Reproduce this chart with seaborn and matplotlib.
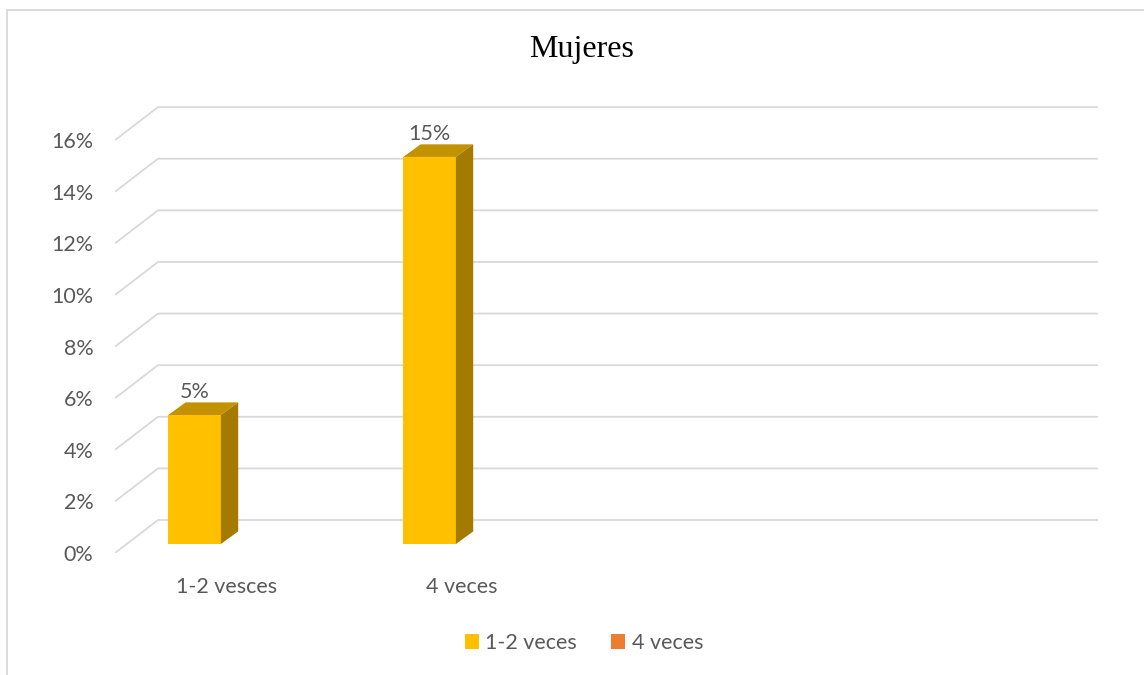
import pandas as pd
import matplotlib.pyplot as plt
import seaborn as sns
from matplotlib.patches import Polygon, Patch
from matplotlib.lines import Line2D

# chart data
categories = ["1-2 vesces", "4 veces"]
series = ["1-2 veces", "4 veces"]
values_1_2 = [5, 15]
values_4 = [0, 0]
y_ticks = [0, 2, 4, 6, 8, 10, 12, 14, 16]

colors = {"1-2 veces": "#FFC000", "4 veces": "#ED7D31"}
top_color = "#C29200"
side_color = "#A47B00"
grid_color = "#D9D9D9"
text_color = "#595959"

# fake 3d geometry (data units)
FRONT_DX, FRONT_DY = -0.05, -0.349
BACK_DX, BACK_DY = 0.133, 0.93
BAR_DX, BAR_DY = 0.0736, 0.488
X_LEFT, X_RIGHT = -0.5136, 3.669
Y_BOTTOM, Y_TOP = -0.349, 17.40

df = pd.DataFrame({
    "categoria": categories * 2,
    "serie": [series[0]] * 2 + [series[1]] * 2,
    "valor": values_1_2 + values_4,
})

sns.set_theme(style="white")
plt.rcParams["font.family"] = ["Lato", "DejaVu Sans"]

fig = plt.figure(figsize=(11.44, 6.75), dpi=100)
ax = fig.add_axes([115 / 1144, 1 - 553 / 675, 983 / 1144, (553 - 95) / 675])

sns.barplot(data=df, x="categoria", y="valor", hue="serie", order=categories,
            hue_order=series, palette=colors, width=0.70, gap=0.36, saturation=1,
            errorbar=None, legend=False, linewidth=0, ax=ax, zorder=3)

# top and side faces of each bar
for p in list(ax.patches):
    h = p.get_height()
    if h <= 0:
        continue
    x0 = p.get_x()
    x1 = x0 + p.get_width()
    ax.add_patch(Polygon([(x0, h), (x1, h), (x1 + BAR_DX, h + BAR_DY), (x0 + BAR_DX, h + BAR_DY)],
                         closed=True, facecolor=top_color, edgecolor="none", zorder=3))
    ax.add_patch(Polygon([(x1, 0), (x1, h), (x1 + BAR_DX, h + BAR_DY), (x1 + BAR_DX, BAR_DY)],
                         closed=True, facecolor=side_color, edgecolor="none", zorder=3))
    ax.annotate(f"{h:.0f}%", ((x0 + x1) / 2, h + BAR_DY), xytext=(0, 3),
                textcoords="offset points", ha="center", va="baseline",
                fontsize=15.5, color=text_color, zorder=4)

# gridlines: wall + side diagonal
bx = X_LEFT + (BACK_DX - FRONT_DX)
for v in y_ticks:
    ax.plot([X_LEFT, bx, X_RIGHT], [v + FRONT_DY, v + BACK_DY, v + BACK_DY],
            color=grid_color, lw=1.3, zorder=1, solid_capstyle="butt")

ax.set_xlim(X_LEFT, X_RIGHT)
ax.set_ylim(Y_BOTTOM, Y_TOP)
ax.set_yticks([v + FRONT_DY for v in y_ticks], [f"{v}%" for v in y_ticks])
ax.set_xticks([i + FRONT_DX + 0.012 for i in range(len(categories))], categories)
ax.tick_params(axis="y", length=0, pad=15.5, labelsize=15.5, labelcolor=text_color)
ax.tick_params(axis="x", length=0, pad=17, labelsize=15.5, labelcolor=text_color)
ax.set_xlabel("")
ax.set_ylabel("")
for s in ax.spines.values():
    s.set_visible(False)

fig.text(582 / 1144, 1 - 50 / 675, "Mujeres", ha="center", va="center",
         fontsize=23, family="Liberation Serif", color="black")

handles = [Patch(facecolor=colors[s], edgecolor="none", label=s) for s in series]
fig.legend(handles=handles, loc="center", bbox_to_anchor=(584 / 1144, 1 - 643 / 675),
           ncol=2, frameon=False, fontsize=15.5, handlelength=0.65, handleheight=0.65,
           handletextpad=0.3, columnspacing=1.6, labelcolor=text_color)

# chart frame
fig.add_artist(Line2D([6.5 / 1144, 6.5 / 1144], [0, 1 - 9.5 / 675], color=grid_color, lw=1.3))
fig.add_artist(Line2D([6.5 / 1144, 1], [1 - 9.5 / 675, 1 - 9.5 / 675], color=grid_color, lw=1.3))

fig.savefig("out.png", dpi=100, facecolor="white")
